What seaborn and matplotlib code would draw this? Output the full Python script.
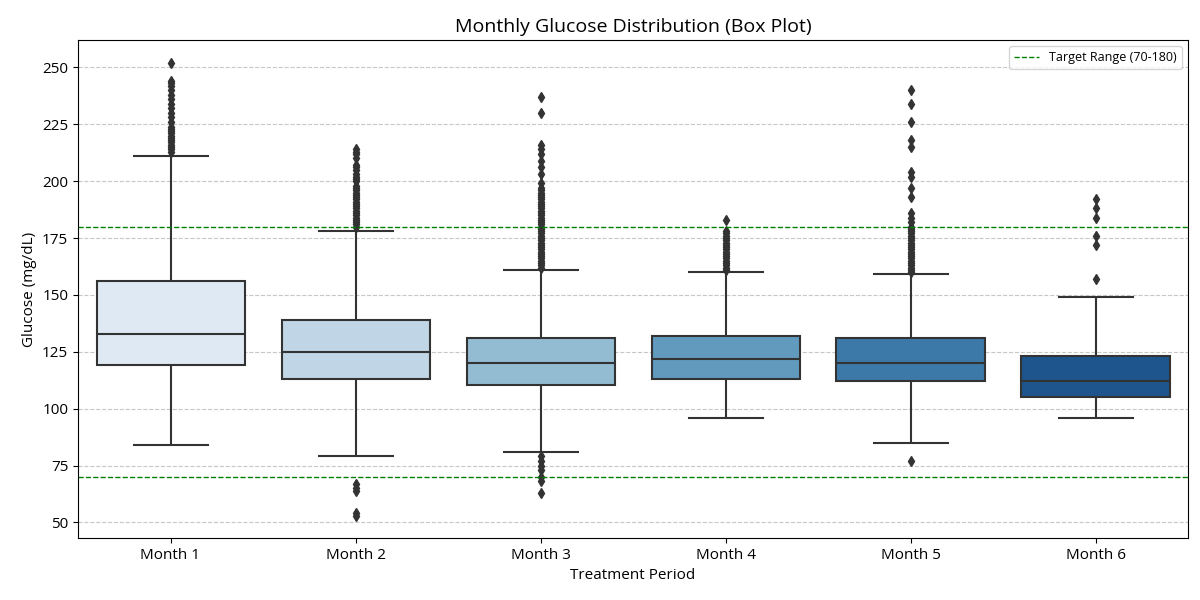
import numpy as np
import pandas as pd
import matplotlib
matplotlib.use("Agg")
import matplotlib.pyplot as plt
import seaborn as sns

# Box summaries (mg/dL)
months = ['Month 1', 'Month 2', 'Month 3', 'Month 4', 'Month 5', 'Month 6']
whisker_low = [84, 79, 81, 96, 85, 96]
q1 = [119, 113, 110.5, 113, 112, 105]
median = [133, 125, 120, 122, 120, 112]
q3 = [156, 139, 131, 132, 131, 123]
whisker_high = [211, 178, 161, 160, 159, 149]

# Outliers
outliers = [
    [213, 214, 215, 216, 217, 218, 219, 220, 221, 222, 223, 224, 226, 228,
     230, 232, 234, 236, 238, 240, 242, 243, 244, 252],
    [53, 54, 64, 65, 67,
     180, 181, 182, 183, 184, 185, 186, 187, 188, 189, 190, 191, 192, 193,
     194, 195, 196, 197, 198, 200, 201, 202, 203, 205, 206, 207, 210, 212, 213, 214],
    [63, 68, 70, 73, 75, 77, 79,
     162, 163, 164, 165, 166, 167, 168, 169, 170, 171, 172, 173, 174, 175,
     176, 177, 178, 179, 180, 181, 182, 183, 184, 185, 186, 187, 188, 189,
     190, 191, 192, 193, 194, 195, 196, 197, 199, 203, 206, 209, 212, 214,
     216, 230, 237],
    [161, 162, 163, 164, 165, 166, 167, 168, 169, 170, 171, 172, 173, 174,
     175, 176, 177, 178, 183],
    [77,
     160, 161, 162, 163, 164, 165, 166, 167, 168, 169, 170, 171, 172, 173,
     174, 175, 176, 177, 178, 179, 180, 182, 184, 186, 193, 197, 202, 204,
     215, 218, 226, 234, 240],
    [157, 172, 176, 184, 188, 192],
]

# Build a long table whose quartiles / whiskers reproduce the summaries
rows = []
for i, m in enumerate(months):
    core = np.repeat([whisker_low[i], q1[i], median[i], q3[i], whisker_high[i]], 400)
    vals = np.concatenate([core, outliers[i]])
    rows.append(pd.DataFrame({'Month': m, 'Glucose': vals}))
df = pd.concat(rows, ignore_index=True)

plt.rcParams['font.family'] = ['Open Sans', 'DejaVu Sans']

fig, ax = plt.subplots(figsize=(12, 6), dpi=100)
sns.boxplot(data=df, x='Month', y='Glucose', hue='Month', palette='Blues',
            legend=False, ax=ax, width=0.8, linewidth=1.5, linecolor='#333333',
            flierprops=dict(marker='d', markerfacecolor='#333333',
                            markeredgecolor='#333333', markersize=5))

ax.axhline(70, color='green', linestyle='--', linewidth=1,
           label='Target Range (70-180)')
ax.axhline(180, color='green', linestyle='--', linewidth=1)

ax.set_title('Monthly Glucose Distribution (Box Plot)', fontsize=14)
ax.set_xlabel('Treatment Period', fontsize=11)
ax.set_ylabel('Glucose (mg/dL)', fontsize=11)
ax.tick_params(labelsize=11)
ax.grid(axis='y', linestyle='--', alpha=0.7)
ax.set_axisbelow(True)
ax.legend(loc='upper right', fontsize=9)

fig.subplots_adjust(left=0.065, right=0.99, top=0.933, bottom=0.103)
plt.savefig('out.png')
